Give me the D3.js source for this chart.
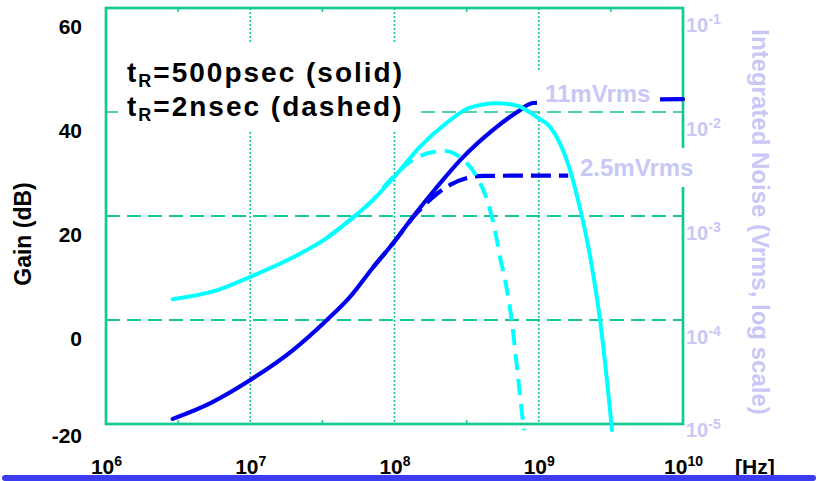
<!DOCTYPE html>
<html>
<head>
<meta charset="utf-8">
<script src="https://cdn.jsdelivr.net/npm/d3@7"></script>
<style>
  html, body { margin: 0; padding: 0; background: #fff; }
  svg { display: block; font-family: "Liberation Sans", Arial, sans-serif; font-weight: bold; }
</style>
</head>
<body>
<div id="chart"></div>
<script>
// axes
var freqTicks = [1e6, 1e7, 1e8, 1e9, 1e10];
var gainTicks = [60, 40, 20, 0, -20];
var noiseTicks = [1e-1, 1e-2, 1e-3, 1e-4, 1e-5];
var noiseExp = ["-1", "-2", "-3", "-4", "-5"];
var freqExp = ["6", "7", "8", "9", "10"];
var gainGrid = [0, 20, 40];
var freqGrid = [1e7, 1e8, 1e9];

// gain, tR=500psec (solid cyan)
var freq500 = [2.9e6, 6.0e6, 1.0e7, 2.0e7, 3.4e7, 4.9e7, 7.1e7, 9.8e7, 1.5e8, 2.3e8, 3.3e8, 5.1e8,
               7.1e8, 9.7e8, 1.2e9, 1.4e9, 1.65e9, 1.87e9, 2.16e9, 2.42e9, 2.66e9, 2.88e9, 3.07e9, 3.22e9];
var gain500 = [4.0, 5.8, 8.3, 12.1, 15.8, 19.2, 23.1, 27.3, 33.3, 37.9, 40.8, 41.7,
               41.2, 39.0, 37.1, 34.0, 28.8, 23.1, 15.4, 7.7, 0, -8.1, -15.4, -21.2];

// gain, tR=2nsec (dashed cyan)
var freq2n = [3.4e7, 4.9e7, 7.1e7, 9.3e7, 1.34e8, 1.85e8, 2.24e8, 2.84e8, 3.73e8, 4.38e8, 4.97e8,
              5.39e8, 6.02e8, 6.53e8, 7.06e8, 7.65e8, 7.9e8];
var gain2n = [15.8, 19.2, 23.1, 26.9, 30.8, 32.3, 32.5, 31.3, 27.5, 23.1, 17.3,
              12.1, 5.8, -0.6, -9.0, -17.9, -21.2];

// integrated noise (Vrms), tR=500psec (solid blue)
var noiseFreq500 = [2.9e6, 5.3e6, 1.0e7, 2.0e7, 3.4e7, 4.9e7, 7.1e7, 9.8e7, 1.34e8, 1.97e8, 3.0e8,
                    4.8e8, 7.1e8, 9.1e8, 1.0e10];
var noise500 = [1.12e-5, 1.59e-5, 2.65e-5, 5.2e-5, 1.0e-4, 1.66e-4, 3.2e-4, 5.5e-4, 9.8e-4, 1.9e-3, 3.7e-3,
                6.7e-3, 1.0e-2, 1.22e-2, 1.33e-2];

// integrated noise (Vrms), tR=2nsec (dashed blue)
var noiseFreq2n = [7.1e7, 9.8e7, 1.43e8, 1.85e8, 2.43e8, 3.18e8, 4.11e8, 1.6e9];
var noise2n = [3.2e-4, 5.5e-4, 1.07e-3, 1.52e-3, 1.99e-3, 2.32e-3, 2.43e-3, 2.45e-3];

var legendLines = ["=500psec (solid)", "=2nsec (dashed)"];
var noiseLabels = ["11mVrms", "2.5mVrms"];

var gridColor = "#12c995";
var labelColor = "#c8c8f6";

var margin = {top: 8, right: 135, bottom: 57, left: 106};
var width = 818 - margin.left - margin.right;
var height = 481 - margin.top - margin.bottom;

var root = d3.select("#chart")
  .append("svg")
    .attr("width", 818)
    .attr("height", 481);

var svg = root.append("g")
    .attr("transform", "translate(" + margin.left + "," + margin.top + ")");

var x = d3.scaleLog().domain([1e6, 1e10]).range([0, width]);
var yGain = d3.scaleLinear().domain([-20, 60]).range([height, 0]);
var yNoise = d3.scaleLog().domain([1e-5, 1e-1]).range([height, 0]);

// grid
svg.append("g")
    .selectAll("line")
    .data(gainGrid)
    .enter()
    .append("line")
      .attr("x1", 0).attr("x2", width)
      .attr("y1", function(d) { return yGain(d); })
      .attr("y2", function(d) { return yGain(d); })
      .attr("stroke", gridColor)
      .attr("stroke-width", function(d) { return d === 40 ? 1.4 : 2; })
      .attr("stroke-dasharray", "14,7");

svg.append("g")
    .selectAll("line")
    .data(freqGrid)
    .enter()
    .append("line")
      .attr("x1", function(d) { return x(d); })
      .attr("x2", function(d) { return x(d); })
      .attr("y1", 0).attr("y2", height)
      .attr("stroke", gridColor)
      .attr("stroke-width", 1.6)
      .attr("stroke-dasharray", "2,2");

// small half-decade marks on top and bottom edges
var halfDecades = freqTicks.slice(0, -1).map(function(d) { return d * Math.sqrt(10); });
svg.append("g")
    .selectAll("line")
    .data(halfDecades.concat(halfDecades))
    .enter()
    .append("line")
      .attr("x1", function(d) { return x(d); })
      .attr("x2", function(d) { return x(d); })
      .attr("y1", function(d, i) { return i < halfDecades.length ? 0 : height; })
      .attr("y2", function(d, i) { return i < halfDecades.length ? 4 : height - 4; })
      .attr("stroke", gridColor)
      .attr("stroke-width", 1.5);

svg.append("rect")
    .attr("width", width)
    .attr("height", height)
    .attr("fill", "none")
    .attr("stroke", gridColor)
    .attr("stroke-width", 2.7);

// noise curves (right axis)
var noiseLine = d3.line()
    .x(function(d) { return x(d[0]); })
    .y(function(d) { return yNoise(d[1]); })
    .curve(d3.curveMonotoneX);

svg.append("path")
    .datum(d3.zip(noiseFreq500, noise500))
    .attr("d", noiseLine)
    .attr("fill", "none")
    .attr("stroke", "#0000ee")
    .attr("stroke-width", 4.2)
    .attr("stroke-linecap", "round");

svg.append("path")
    .datum(d3.zip(noiseFreq2n, noise2n))
    .attr("d", noiseLine)
    .attr("fill", "none")
    .attr("stroke", "#0000ee")
    .attr("stroke-width", 4.2)
    .attr("stroke-dasharray", "20,8");

// white boxes behind the legend and the noise labels
var boxes = [[12, 34, 297, 88], [431, 64, 123, 38], [470, 140, 122, 39]];
svg.append("g")
    .selectAll("rect")
    .data(boxes)
    .enter()
    .append("rect")
      .attr("x", function(d) { return d[0]; })
      .attr("y", function(d) { return d[1]; })
      .attr("width", function(d) { return d[2]; })
      .attr("height", function(d) { return d[3]; })
      .attr("fill", "#fff");

// gain curves (left axis)
var gainLine = d3.line()
    .x(function(d) { return x(d[0]); })
    .y(function(d) { return yGain(d[1]); })
    .curve(d3.curveMonotoneX);

svg.append("path")
    .datum(d3.zip(freq500, gain500))
    .attr("d", gainLine)
    .attr("fill", "none")
    .attr("stroke", "#00ffff")
    .attr("stroke-width", 4)
    .attr("stroke-linecap", "round");

svg.append("path")
    .datum(d3.zip(freq2n, gain2n))
    .attr("d", gainLine)
    .attr("fill", "none")
    .attr("stroke", "#00ffff")
    .attr("stroke-width", 4)
    .attr("stroke-dasharray", "16,9");

// left axis
var leftAxis = svg.append("g")
    .call(d3.axisLeft(yGain).tickValues(gainTicks).tickSize(0).tickPadding(24)
      .tickFormat(function(d) { return String(d); }));
leftAxis.select(".domain").remove();
leftAxis.selectAll("text")
    .attr("y", function(d, i) { return i === gainTicks.length - 1 ? 12 : 19; })
    .attr("font-size", 21)
    .attr("font-family", "Liberation Sans, Arial, sans-serif")
    .attr("font-weight", "bold")
    .attr("fill", "#000");

// right axis
var rightAxis = svg.append("g")
    .attr("transform", "translate(" + width + ",0)")
    .call(d3.axisRight(yNoise).tickValues(noiseTicks).tickSize(0).tickPadding(3).tickFormat(""));
rightAxis.select(".domain").remove();
rightAxis.selectAll("text")
    .attr("y", function(d, i) { return i === noiseTicks.length - 1 ? 6 : 17; })
    .attr("font-size", 20)
    .attr("font-family", "Liberation Sans, Arial, sans-serif")
    .attr("font-weight", "bold")
    .attr("fill", labelColor)
    .each(function(d, i) {
      var t = d3.select(this);
      t.append("tspan").text("10");
      t.append("tspan").attr("font-size", 14).attr("dy", "-0.55em").text(noiseExp[i]);
    });

// bottom axis
var bottomAxis = svg.append("g")
    .attr("transform", "translate(0," + height + ")")
    .call(d3.axisBottom(x).tickValues(freqTicks).tickSize(0).tickFormat(""));
bottomAxis.select(".domain").remove();
bottomAxis.selectAll("text")
    .attr("y", 50)
    .attr("dy", 0)
    .attr("font-size", 21)
    .attr("font-family", "Liberation Sans, Arial, sans-serif")
    .attr("font-weight", "bold")
    .attr("fill", "#000")
    .each(function(d, i) {
      var t = d3.select(this);
      t.append("tspan").text("10");
      t.append("tspan").attr("font-size", 14).attr("dy", "-0.55em").text(freqExp[i]);
    });

svg.append("text")
    .attr("x", 629)
    .attr("y", 466)
    .attr("font-size", 21)
    .text("[Hz]");

// axis titles
svg.append("text")
    .attr("transform", "translate(-83," + 226 + ") rotate(-90)")
    .attr("text-anchor", "middle")
    .attr("dominant-baseline", "central")
    .attr("font-size", 23)
    .text("Gain (dB)");

svg.append("text")
    .attr("transform", "translate(654," + 214 + ") rotate(90)")
    .attr("text-anchor", "middle")
    .attr("dominant-baseline", "central")
    .attr("font-size", 24)
    .attr("fill", labelColor)
    .text("Integrated Noise (Vrms, log scale)");

// legend
legendLines.forEach(function(s, i) {
  var t = svg.append("text")
      .attr("x", 21)
      .attr("y", 74 + i * 34)
      .attr("font-size", 28)
      .attr("letter-spacing", 2)
      .attr("fill", "#000");
  t.append("tspan").text("t");
  t.append("tspan").attr("font-size", 18).attr("dy", 5).text("R");
  t.append("tspan").attr("dy", -5).text(s);
});

// noise value labels
svg.selectAll(".noiselabel")
    .data(noiseLabels)
    .enter()
    .append("text")
      .attr("class", "noiselabel")
      .attr("x", function(d, i) { return i === 0 ? 439 : 474; })
      .attr("y", function(d, i) { return i === 0 ? 94 : 168; })
      .attr("font-size", 24)
      .attr("fill", labelColor)
      .text(function(d) { return d; });

// blue bar along the bottom
root.append("rect")
    .attr("x", 2)
    .attr("y", 475)
    .attr("width", 814)
    .attr("height", 6)
    .attr("rx", 3)
    .attr("fill", "#3c3cf2");
</script>
</body>
</html>
